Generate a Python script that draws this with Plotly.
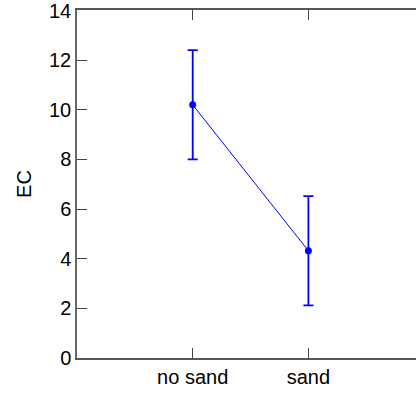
import plotly.graph_objects as go

categories = ["no sand", "sand"]
cat_pos = [1, 2]
ec_mean = [10.2, 4.32]
ec_err = [2.2, 2.2]
y_ticks = [0, 2, 4, 6, 8, 10, 12, 14]

fig = go.Figure()
fig.add_trace(go.Scatter(
    x=cat_pos, y=ec_mean, mode="lines+markers",
    line=dict(color="#0000FF", width=1),
    marker=dict(color="#0000FF", size=7),
    error_y=dict(type="data", array=ec_err, visible=True, color="#0000FF",
                 thickness=1.8, width=5),
    showlegend=False,
))

axis_font = dict(family="Liberation Sans, Arial, sans-serif", size=20, color="black")
yr = [0, 14.02]
fig.update_layout(
    width=416, height=393,
    margin=dict(l=77, r=0, t=10, b=35),
    paper_bgcolor="white", plot_bgcolor="white",
    font=axis_font,
    xaxis=dict(range=[0, 2.93], tickmode="array", tickvals=cat_pos, ticktext=categories,
               ticks="inside", ticklen=10, tickcolor="#444", showline=True, linecolor="#555",
               linewidth=1.5, mirror="ticks", showgrid=False, zeroline=False,
               tickfont=axis_font),
    yaxis=dict(range=yr, tickmode="array", tickvals=y_ticks,
               ticks="inside", ticklen=10, tickcolor="#444", showline=True, linecolor="#666",
               linewidth=1.5, mirror=False, showgrid=False, zeroline=False,
               ticklabeloverflow="allow",
               tickfont=axis_font, title=dict(text="EC", font=axis_font, standoff=12)),
)
fig.write_html("out.html")
